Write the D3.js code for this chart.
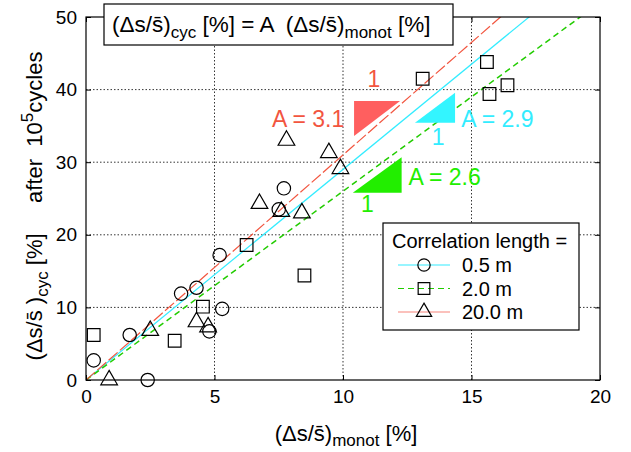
<!DOCTYPE html>
<html>
  <head>
    <meta charset="utf-8">
    <title>Cyclic vs monotonic settlement</title>
    <style>
      body { margin: 0; background: white; }
      text { font-family: "Liberation Sans", Arial, sans-serif; fill: black; }
      .grid line { stroke: black; stroke-width: 0.8; stroke-dasharray: 1.5 2; }
    </style>
  </head>
  <body>
    <script src="https://d3js.org/d3.v7.min.js"></script>
    <script>
      const width = 631;
      const height = 452;
      const margin = {left: 86, top: 17, right: 31, bottom: 72};

      // readings: (monot, cyc) in %
      const monot05 = [2.4, 0.3, 1.7, 3.7, 4.3, 5.3, 4.8, 5.2, 7.7, 7.5];
      const cyc05   = [0.0, 2.7, 6.2, 11.9, 12.7, 9.8, 6.7, 17.2, 26.4, 23.5];
      const monot2  = [0.3, 3.45, 4.55, 6.25, 8.5, 13.1, 15.6, 15.7, 16.4];
      const cyc2    = [6.2, 5.4, 10.1, 18.6, 14.4, 41.5, 43.8, 39.4, 40.6];
      const monot20 = [0.9, 2.5, 4.3, 4.75, 6.75, 7.6, 8.4, 7.8, 9.45, 9.9];
      const cyc20   = [0.0, 6.8, 8.0, 7.3, 24.3, 23.2, 23.0, 33.0, 31.3, 29.1];

      const fitSlopes = [2.9, 2.6, 3.1];
      const seriesNames = ["0.5 m", "2.0 m", "20.0 m"];
      const xTicks = [0, 5, 10, 15, 20];
      const yTicks = [0, 10, 20, 30, 40, 50];

      const colors = ["#33ecff", "#22cc00", "#f2553f"];
      const dashes = [null, "6 4", "12 3"];
      const symbols = [d3.symbolCircle, d3.symbolSquare, d3.symbolTriangle];
      const symSize = [140, 160, 120];

      const svg = d3.select("body").append("svg")
        .attr("width", width).attr("height", height);

      const x = d3.scaleLinear().domain([0, 20]).range([margin.left, width - margin.right]);
      const y = d3.scaleLinear().domain([0, 50]).range([height - margin.bottom, margin.top]);

      // dotted grid
      const grid = svg.append("g").attr("class", "grid");
      grid.selectAll(".gx").data(xTicks.slice(1, -1)).join("line")
        .attr("x1", d => x(d)).attr("x2", d => x(d))
        .attr("y1", y(0)).attr("y2", y(50));
      grid.selectAll(".gy").data(yTicks.slice(1, -1)).join("line")
        .attr("y1", d => y(d)).attr("y2", d => y(d))
        .attr("x1", x(0)).attr("x2", x(20));

      svg.append("defs").append("clipPath").attr("id", "clip")
        .append("rect").attr("x", x(0)).attr("y", y(50))
        .attr("width", x(20) - x(0)).attr("height", y(0) - y(50));

      // fit lines through origin
      const fits = svg.append("g").attr("clip-path", "url(#clip)");
      fitSlopes.forEach((a, i) => {
        fits.append("line")
          .attr("x1", x(0)).attr("y1", y(0))
          .attr("x2", x(20)).attr("y2", y(20 * a))
          .attr("stroke", colors[i])
          .attr("stroke-width", i === 1 ? 1.5 : 1.2)
          .attr("stroke-dasharray", dashes[i]);
      });

      // slope triangles
      const slopeTri = [
        {pts: [[10.43, 38.43], [12.22, 38.43], [10.43, 33.6]], fill: "#ff5f5f"},
        {pts: [[14.36, 39.57], [12.8, 35.44], [14.36, 35.44]], fill: "#33f5ff"},
        {pts: [[12.28, 30.67], [10.38, 25.8], [12.28, 25.8]], fill: "#22ee00"}
      ];
      svg.selectAll(".tri").data(slopeTri).join("polygon")
        .attr("points", d => d.pts.map(p => [x(p[0]), y(p[1])].join(",")).join(" "))
        .attr("fill", d => d.fill);

      const ann = [
        {t: "1", x: 11.2, y: 40.3, c: "#f2553f", a: "middle"},
        {t: "A = 3.1", x: 10.05, y: 34.9, c: "#f2553f", a: "end"},
        {t: "1", x: 13.7, y: 32.4, c: "#33ecff", a: "middle"},
        {t: "A = 2.9", x: 14.6, y: 34.9, c: "#33ecff", a: "start"},
        {t: "1", x: 10.95, y: 23.2, c: "#22ee00", a: "middle"},
        {t: "A = 2.6", x: 12.55, y: 26.8, c: "#22ee00", a: "start"}
      ];
      svg.selectAll(".ann").data(ann).join("text")
        .attr("x", d => x(d.x)).attr("y", d => y(d.y))
        .attr("text-anchor", d => d.a)
        .style("fill", d => d.c)
        .style("font-size", "23px")
        .text(d => d.t);

      // markers
      const series = [[monot05, cyc05], [monot2, cyc2], [monot20, cyc20]];
      series.forEach((s, i) => {
        const pts = s[0].map((v, k) => [v, s[1][k]]);
        svg.append("g").selectAll("path").data(pts).join("path")
          .attr("transform", d => `translate(${x(d[0])},${y(d[1])})`)
          .attr("d", d3.symbol(symbols[i], symSize[i]))
          .attr("fill", "none").attr("stroke", "black").attr("stroke-width", 1.2);
      });

      // frame and inward ticks
      svg.append("rect").attr("x", x(0)).attr("y", y(50))
        .attr("width", x(20) - x(0)).attr("height", y(0) - y(50))
        .attr("fill", "none").attr("stroke", "black").attr("stroke-width", 1.2);

      const tl = 5;
      svg.append("g").attr("transform", `translate(0,${y(0)})`)
        .call(d3.axisBottom(x).tickValues(xTicks).tickSize(-tl).tickPadding(10))
        .call(g => g.select(".domain").remove());
      svg.append("g").attr("transform", `translate(0,${y(50)})`)
        .call(d3.axisTop(x).tickValues(xTicks).tickSize(-tl).tickFormat(""))
        .call(g => g.select(".domain").remove());
      svg.append("g").attr("transform", `translate(${x(0)},0)`)
        .call(d3.axisLeft(y).tickValues(yTicks).tickSize(-tl).tickPadding(9))
        .call(g => g.select(".domain").remove());
      svg.append("g").attr("transform", `translate(${x(20)},0)`)
        .call(d3.axisRight(y).tickValues(yTicks).tickSize(-tl).tickFormat(""))
        .call(g => g.select(".domain").remove());
      svg.selectAll(".tick text").style("font-size", "19px")
        .style("font-family", "'Liberation Sans', Arial, sans-serif").attr("fill", "black");
      svg.selectAll(".tick line").attr("stroke-width", 1);

      // equation box
      svg.append("rect").attr("x", 104).attr("y", 4).attr("width", 349).attr("height", 41)
        .attr("fill", "white").attr("stroke", "black").attr("stroke-width", 1.2);
      const eq = svg.append("text").attr("x", 112).attr("y", 32)
        .attr("xml:space", "preserve").style("font-size", "22.5px");
      eq.append("tspan").text("(\u0394s/s\u0304)");
      eq.append("tspan").attr("dy", 6).style("font-size", "17px").text("cyc");
      eq.append("tspan").attr("dy", -6).text(" [%] = A  (\u0394s/s\u0304)");
      eq.append("tspan").attr("dy", 6).style("font-size", "17px").text("monot");
      eq.append("tspan").attr("dy", -6).text(" [%]");

      // axis titles
      const xl = svg.append("text").attr("x", 346).attr("y", 441)
        .attr("text-anchor", "middle").style("font-size", "22px");
      xl.append("tspan").text("(\u0394s/s\u0304)");
      xl.append("tspan").attr("dy", 5).style("font-size", "17px").text("monot");
      xl.append("tspan").attr("dy", -5).text(" [%]");

      const yl = svg.append("text")
        .attr("transform", "translate(42,206) rotate(-90)")
        .attr("text-anchor", "middle").attr("xml:space", "preserve")
        .style("font-size", "22px");
      yl.append("tspan").text("(\u0394s/s\u0304 )");
      yl.append("tspan").attr("dy", 6).style("font-size", "17px").text("cyc");
      yl.append("tspan").attr("dy", -6).text(" [%]     after  10");
      yl.append("tspan").attr("dy", -9).style("font-size", "17px").text("5");
      yl.append("tspan").attr("dy", 9).text("cycles");

      // legend
      const lg = svg.append("g");
      lg.append("rect").attr("x", 383).attr("y", 223).attr("width", 196).attr("height", 107)
        .attr("fill", "white").attr("stroke", "black").attr("stroke-width", 1.2);
      lg.append("text").attr("x", 392).attr("y", 248).style("font-size", "20px")
        .text("Correlation length =");
      seriesNames.forEach((name, i) => {
        const ly = 265 + i * 23.5;
        lg.append("line").attr("x1", 398).attr("x2", 450).attr("y1", ly).attr("y2", ly)
          .attr("stroke", i === 2 ? "#f8847a" : colors[i])
          .attr("stroke-width", 1.2)
          .attr("stroke-dasharray", i === 1 ? "6 4" : null);
        lg.append("path").attr("transform", `translate(424,${ly})`)
          .attr("d", d3.symbol(symbols[i], symSize[i] * 0.85))
          .attr("fill", "none").attr("stroke", "black").attr("stroke-width", 1.2);
        lg.append("text").attr("x", 462).attr("y", ly + 7).style("font-size", "20px")
          .text(name);
      });
    </script>
  </body>
</html>
